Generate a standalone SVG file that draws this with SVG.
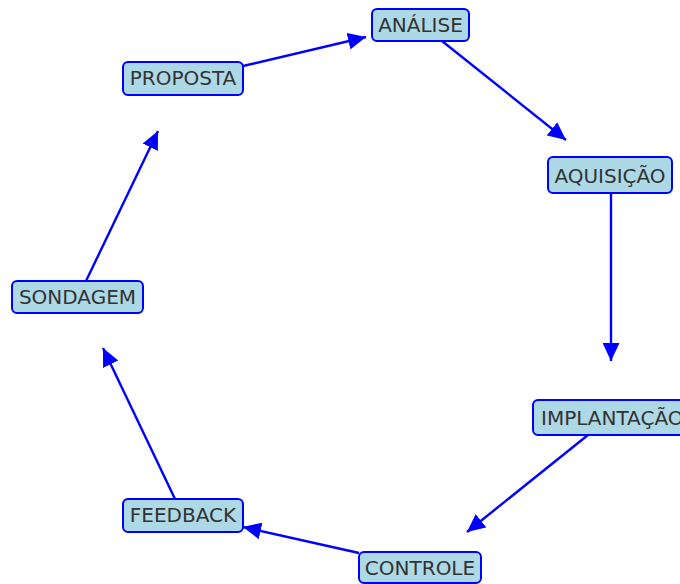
<svg xmlns="http://www.w3.org/2000/svg" width="680" height="584" viewBox="0 0 680 584">
<style>
.box{fill:#add8e6;stroke:#0000ff;stroke-width:2}
.lbl{font-family:"DejaVu Sans",sans-serif;font-size:20px;fill:#333333;text-anchor:middle}
.edge{stroke:#0000ff;stroke-width:2.4;fill:none;marker-end:url(#ah)}
</style>
<defs>
<marker id="ah" viewBox="0 0 18 17" refX="18" refY="8.5" markerWidth="18" markerHeight="17" markerUnits="userSpaceOnUse" orient="auto">
<path d="M0,0 L18,8.5 L0,17 Z" fill="#0000ff"/>
</marker>
</defs>
<rect width="680" height="584" fill="#ffffff"/>
<g id="nodes">
<g id="analise"><rect class="box" x="372" y="9" width="97" height="32" rx="5"/><text class="lbl" x="420.5" y="32">ANÁLISE</text></g>
<g id="aquisicao"><rect class="box" x="548" y="157" width="124" height="36" rx="5"/><text class="lbl" x="610" y="183">AQUISIÇÃO</text></g>
<g id="implantacao"><rect class="box" x="533" y="400" width="160" height="35" rx="5"/><text class="lbl" x="541" y="425" style="text-anchor:start">IMPLANTAÇÃO</text></g>
<g id="controle"><rect class="box" x="359" y="552" width="122" height="31" rx="5"/><text class="lbl" x="420" y="575">CONTROLE</text></g>
<g id="feedback"><rect class="box" x="123" y="499" width="120" height="33" rx="5"/><text class="lbl" x="183" y="522">FEEDBACK</text></g>
<g id="sondagem"><rect class="box" x="12" y="281" width="131" height="32" rx="5"/><text class="lbl" x="77.5" y="304">SONDAGEM</text></g>
<g id="proposta"><rect class="box" x="123" y="62" width="120" height="33" rx="5"/><text class="lbl" x="183" y="85">PROPOSTA</text></g>
</g>
<g id="connectors">
<line class="edge" x1="86" y1="281" x2="158" y2="131"/>
<line class="edge" x1="243" y1="66" x2="366" y2="37"/>
<line class="edge" x1="442" y1="41" x2="566" y2="140"/>
<line class="edge" x1="611" y1="193" x2="611" y2="361"/>
<line class="edge" x1="588" y1="435" x2="467" y2="532"/>
<line class="edge" x1="359" y1="553" x2="243" y2="527"/>
<line class="edge" x1="175" y1="499" x2="103" y2="348"/>
</g>
</svg>
